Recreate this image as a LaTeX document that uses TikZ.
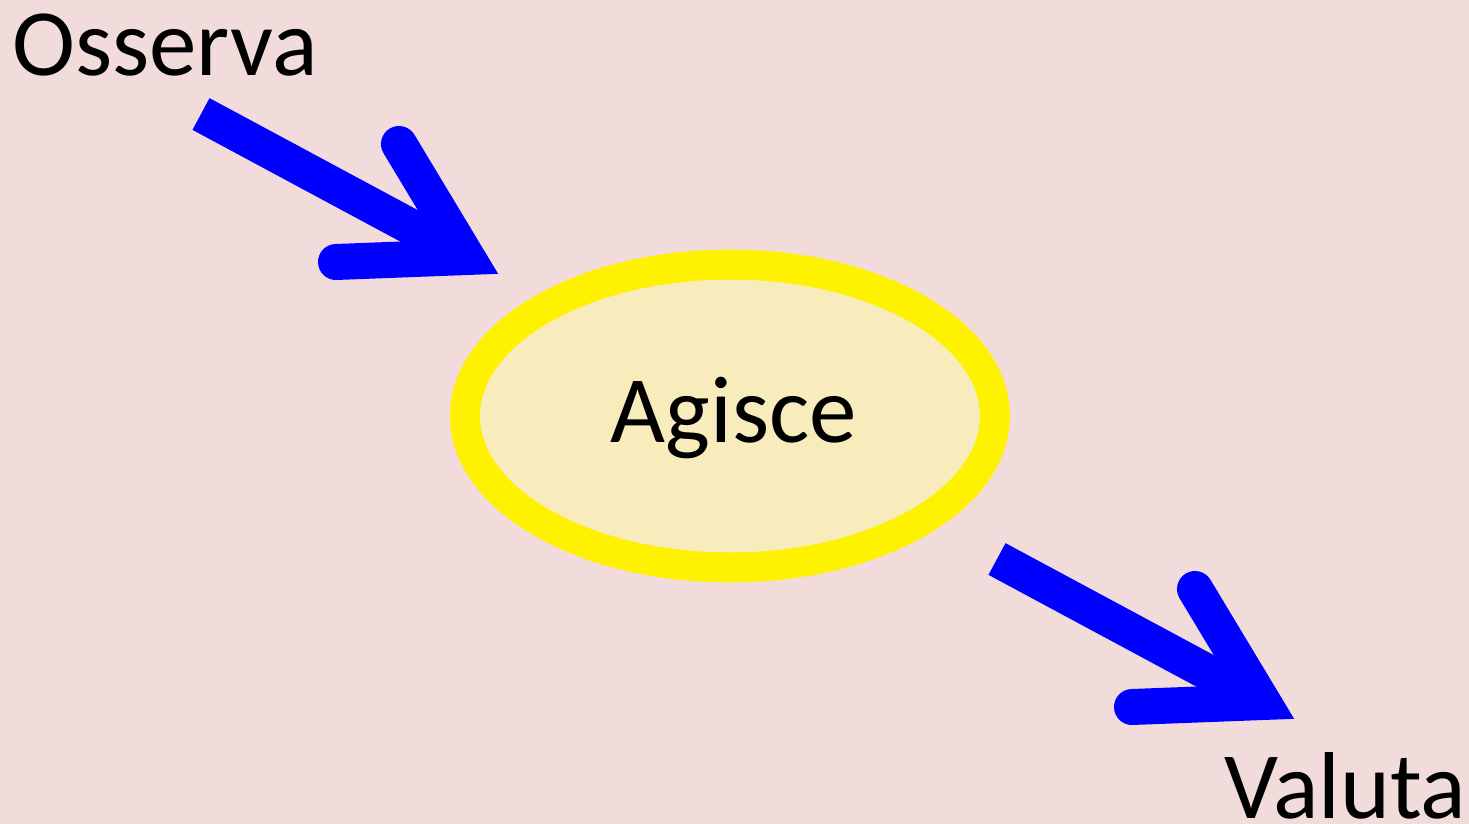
\documentclass[tikz,border=0pt]{standalone}
\usepackage{fontspec}
\setmainfont{Carlito}
\usetikzlibrary{shapes.geometric}
\definecolor{bgpink}{HTML}{F2DCDB}
\definecolor{ovalfill}{HTML}{F8ECBC}
\tikzset{%
  step label/.style={
    font=\fontsize{47.5}{57}\selectfont,
    inner sep=0pt
  },
  action oval/.style={
    ellipse,
    draw=yellow,
    fill=ovalfill,
    line width=15pt,
    minimum width=265pt,
    minimum height=151.5pt,
    inner sep=0pt,
    text height=36pt,
    text depth=10pt,
    font=\fontsize{47.5}{57}\selectfont
  },
  arrow shaft/.style={
    draw=blue,
    line width=18pt,
    line cap=butt
  },
  arrow barb/.style={
    draw=blue,
    line width=18pt,
    line cap=round,
    line join=miter
  },
}

\begin{document}
\begin{tikzpicture}[x=0.5pt, y=-0.5pt]

\fill [bgpink] (0,0) rectangle (1469,824);
\useasboundingbox (0,0) rectangle (1469,824);

\node [step label, anchor=base west] (osserva) at (12,76) {Osserva};
\node [action oval] (agisce) at (730,416) {\hspace*{4pt}Agisce};
\node [step label, anchor=base west] (valuta) at (1224,818) {Valuta};

\foreach \a/\dx/\dy in {in/0/0, out/796/445}
{
  \begin{scope}[shift={(\dx,\dy)}]
    \coordinate (\a-tail) at (201,114);
    \coordinate (\a-tip) at (467,257);
    \coordinate (\a-top) at (399,144);
    \coordinate (\a-bot) at (336,262);
  \end{scope}
}

\foreach \a in {in,out}
{
  \draw [arrow shaft] (\a-tail) -- (\a-tip);
  \draw [arrow barb] (\a-top) -- (\a-tip) -- (\a-bot);
}

\end{tikzpicture}
\end{document}
